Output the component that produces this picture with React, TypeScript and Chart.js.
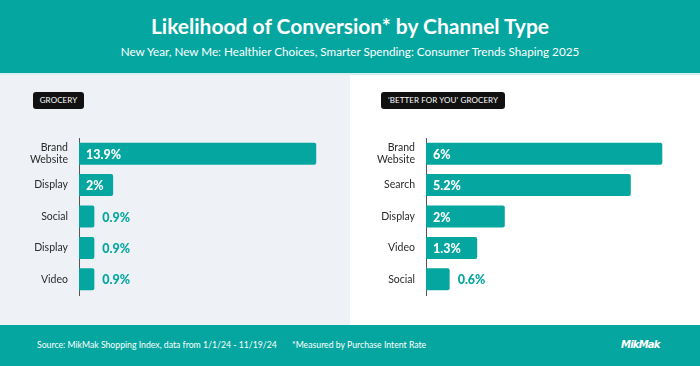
import React, { useEffect, useRef } from "react";
import { Chart, registerables } from "chart.js";

Chart.register(...registerables);

const TITLE = "Likelihood of Conversion* by Channel Type";
const SUBTITLE = "New Year, New Me: Healthier Choices, Smarter Spending: Consumer Trends Shaping 2025";
const SOURCE = "Source: MikMak Shopping Index, data from 1/1/24 - 11/19/24";
const NOTE = "*Measured by Purchase Intent Rate";

const groceryLabel = "GROCERY";
const groceryChannels: (string | string[])[] = [["Brand", "Website"], "Display", "Social", "Display", "Video"];
const groceryValues = [13.9, 2, 0.9, 0.9, 0.9];

const bfyLabel = "'BETTER FOR YOU' GROCERY";
const bfyChannels: (string | string[])[] = [["Brand", "Website"], "Search", "Display", "Video", "Social"];
const bfyValues = [6, 5.2, 2, 1.3, 0.6];

const TEAL = "#05a6a0";

const valueLabelPlugin = {
  id: "valueLabels",
  afterDatasetsDraw(chart: any) {
    const ctx = chart.ctx;
    const meta = chart.getDatasetMeta(0);
    const data = chart.data.datasets[0].data;
    ctx.save();
    ctx.font = "900 12.5px Lato";
    ctx.textBaseline = "middle";
    ctx.textAlign = "left";
    meta.data.forEach((bar: any, i: number) => {
      const txt = `${data[i]}%`;
      const w = ctx.measureText(txt).width;
      const barW = bar.x - bar.base;
      if (barW > w + 14) {
        ctx.fillStyle = "#ffffff";
        ctx.fillText(txt, bar.base + 7, bar.y + 1);
      } else {
        ctx.fillStyle = TEAL;
        ctx.fillText(txt, bar.x + 8, bar.y + 1);
      }
    });
    ctx.restore();
  },
};

function BarPanel(props: {
  labels: (string | string[])[];
  values: number[];
  max: number;
  axisWidth: number;
  padRight: number;
}) {
  const ref = useRef<HTMLCanvasElement>(null);
  useEffect(() => {
    if (!ref.current) return;
    const chart = new Chart(ref.current, {
      type: "bar",
      data: {
        labels: props.labels as any,
        datasets: [
          {
            data: props.values,
            backgroundColor: TEAL,
            borderRadius: 2,
            borderSkipped: "left",
            categoryPercentage: 1,
            barPercentage: 0.7,
          },
        ],
      },
      options: {
        indexAxis: "y",
        animation: false,
        responsive: false,
        maintainAspectRatio: false,
        layout: { padding: { top: 10, bottom: 11, left: 0, right: props.padRight } },
        plugins: { legend: { display: false }, tooltip: { enabled: false } },
        scales: {
          x: { display: false, min: 0, max: props.max },
          y: {
            afterFit: (scale: any) => {
              scale.width = props.axisWidth;
              scale.paddingTop = 0;
              scale.paddingBottom = 0;
            },
            grid: { display: false, drawTicks: false },
            border: { display: true, color: "#555555", width: 1 },
            ticks: {
              padding: 11,
              color: "#2a2a2a",
              font: { family: "Lato", size: 10.5, lineHeight: 1.1 },
            },
          },
        },
      },
      plugins: [valueLabelPlugin],
    });
    return () => chart.destroy();
  }, []);
  return <canvas ref={ref} width={350} height={178} style={{ width: 350, height: 178, display: "block" }} />;
}

function Badge(props: { text: string; left: number; width: number }) {
  return (
    <div
      style={{
        position: "absolute",
        left: props.left,
        top: 92,
        width: props.width,
        height: 17,
        background: "#111111",
        borderRadius: 3,
        color: "#ffffff",
        fontFamily: "Lato",
        fontSize: 8,
        lineHeight: "17px",
        textAlign: "center",
        letterSpacing: 0.1,
      }}
    >
      {props.text}
    </div>
  );
}

export default function App() {
  return (
    <div
      style={{
        position: "absolute",
        left: 0,
        top: 0,
        width: 700,
        height: 366,
        overflow: "hidden",
        background: "#ffffff",
        fontFamily: "Lato",
      }}
    >
      <div style={{ position: "absolute", left: 0, top: 0, width: 700, height: 73, background: TEAL }} />
      <div style={{ position: "absolute", left: 0, top: 73, width: 700, height: 2, background: "#d6eeed" }} />
      <div
        style={{
          position: "absolute",
          left: 0,
          top: 13,
          width: 700,
          textAlign: "center",
          color: "#fff",
          fontWeight: 700,
          fontSize: 21,
          lineHeight: "26px",
        }}
      >
        {TITLE}
      </div>
      <div
        style={{
          position: "absolute",
          left: 0,
          top: 43,
          width: 700,
          textAlign: "center",
          color: "#fff",
          fontWeight: 400,
          fontSize: 11.7,
          lineHeight: "16px",
        }}
      >
        {SUBTITLE}
      </div>
      <div style={{ position: "absolute", left: 0, top: 75, width: 350, height: 250, background: "#eef2f7" }} />
      <Badge text={groceryLabel} left={33} width={51} />
      <Badge text={bfyLabel} left={381} width={124} />
      <div style={{ position: "absolute", left: 0, top: 128 }}>
        <BarPanel labels={groceryChannels} values={groceryValues} max={15} axisWidth={79} padRight={15} />
      </div>
      <div style={{ position: "absolute", left: 350, top: 128 }}>
        <BarPanel labels={bfyChannels} values={bfyValues} max={6.5} axisWidth={76} padRight={18} />
      </div>
      <div style={{ position: "absolute", left: 0, top: 325, width: 700, height: 41, background: TEAL }} />
      <div
        style={{
          position: "absolute",
          left: 37,
          top: 338,
          color: "#fff",
          fontSize: 8.7,
          lineHeight: "14px",
          whiteSpace: "nowrap",
        }}
      >
        {SOURCE}
      </div>
      <div
        style={{
          position: "absolute",
          left: 292,
          top: 338,
          color: "#fff",
          fontSize: 8.7,
          lineHeight: "14px",
          whiteSpace: "nowrap",
        }}
      >
        {NOTE}
      </div>
      <div
        style={{
          position: "absolute",
          left: 621,
          top: 337,
          color: "#fff",
          fontSize: 10,
          fontWeight: 900,
          fontStyle: "italic",
          fontFamily: "DejaVu Sans",
          letterSpacing: -0.8,
          lineHeight: "16px",
          whiteSpace: "nowrap",
        }}
      >
        MikMak
      </div>
    </div>
  );
}
